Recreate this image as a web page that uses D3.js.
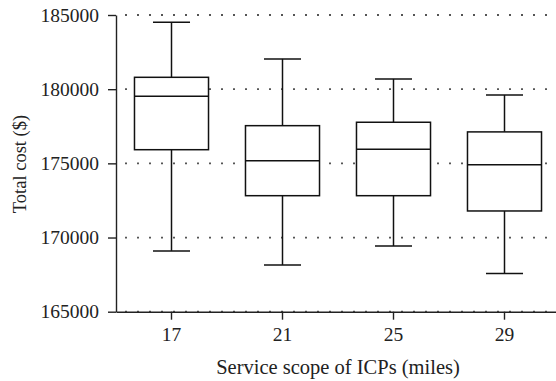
<!DOCTYPE html>
<html>
<head>
	<meta charset="utf-8">
	<script src="https://cdnjs.cloudflare.com/ajax/libs/d3/7.8.5/d3.min.js"></script>
	<style>
		body { margin: 0; background: #fff; }
		text { font-family: "Liberation Serif", "DejaVu Serif", serif; fill: #222; }
	</style>
</head>
<body>
	<script>

		// values
		var categories  = ["17", "21", "25", "29"];
		var whiskerLow  = [169100, 168150, 169430, 167570];
		var q1          = [175920, 172820, 172820, 171790];
		var median      = [179520, 175180, 175950, 174910];
		var q3          = [180800, 177540, 177770, 177120];
		var whiskerHigh = [184510, 182040, 180690, 179610];
		var yTicks      = [165000, 170000, 175000, 180000, 185000];

		var width = 556;
		var height = 381;

		var svg = d3.select("body").append("svg")
									.attr("width", width)
									.attr("height", height);

		var x = d3.scaleBand().domain(categories).range([116, 560]);
		var y = d3.scaleLinear().domain([165000, 185000]).range([311.7, 15]);

		var boxW = x.bandwidth() * 0.667;
		var capW = boxW / 2;

		// dotted grid lines
		svg.append("g").selectAll("line")
			.data(yTicks)
			.enter().append("line")
				.attr("x1", 116).attr("x2", width)
				.attr("y1", function(d) { return y(d); })
				.attr("y2", function(d) { return y(d); })
				.attr("stroke", "#555")
				.attr("stroke-width", 1.8)
				.attr("stroke-dasharray", "2,10")
				.attr("stroke-dashoffset", -9);

		// axes
		svg.append("g")
			.attr("transform", "translate(116,0)")
			.call(d3.axisLeft(y).tickValues(yTicks).tickSize(8).tickSizeOuter(0).tickPadding(9).tickFormat(d3.format("d")));

		svg.append("g")
			.attr("transform", "translate(0," + y(165000) + ")")
			.call(d3.axisBottom(x).tickSize(8).tickSizeOuter(0).tickPadding(7));

		svg.selectAll(".domain, .tick line").attr("stroke", "#222").attr("stroke-width", 1.4);
		svg.selectAll(".tick text").attr("font-size", 19.5).attr("fill", "#222")
			.attr("font-family", "Liberation Serif");

		// boxes
		var g = svg.append("g").attr("fill", "none").attr("stroke", "#111").attr("stroke-width", 1.5);

		categories.forEach(function(c, i) {
			var cx = x(c) + x.bandwidth() / 2;
			// whiskers
			g.append("line").attr("x1", cx).attr("x2", cx).attr("y1", y(q3[i])).attr("y2", y(whiskerHigh[i]));
			g.append("line").attr("x1", cx).attr("x2", cx).attr("y1", y(q1[i])).attr("y2", y(whiskerLow[i]));
			g.append("line").attr("x1", cx - capW / 2).attr("x2", cx + capW / 2)
				.attr("y1", y(whiskerHigh[i])).attr("y2", y(whiskerHigh[i]));
			g.append("line").attr("x1", cx - capW / 2).attr("x2", cx + capW / 2)
				.attr("y1", y(whiskerLow[i])).attr("y2", y(whiskerLow[i]));
			// box
			g.append("rect")
				.attr("x", cx - boxW / 2).attr("width", boxW)
				.attr("y", y(q3[i])).attr("height", y(q1[i]) - y(q3[i]))
				.attr("fill", "#fff");
			g.append("line").attr("x1", cx - boxW / 2).attr("x2", cx + boxW / 2)
				.attr("y1", y(median[i])).attr("y2", y(median[i]));
		});

		// titles
		svg.append("text")
			.attr("x", 338).attr("y", 374)
			.attr("text-anchor", "middle")
			.attr("font-size", 20.5)
			.text("Service scope of ICPs (miles)");

		svg.append("text")
			.attr("transform", "translate(26,164) rotate(-90)")
			.attr("text-anchor", "middle")
			.attr("font-size", 18.5)
			.text("Total cost ($)");

	</script>
</body>
</html>
